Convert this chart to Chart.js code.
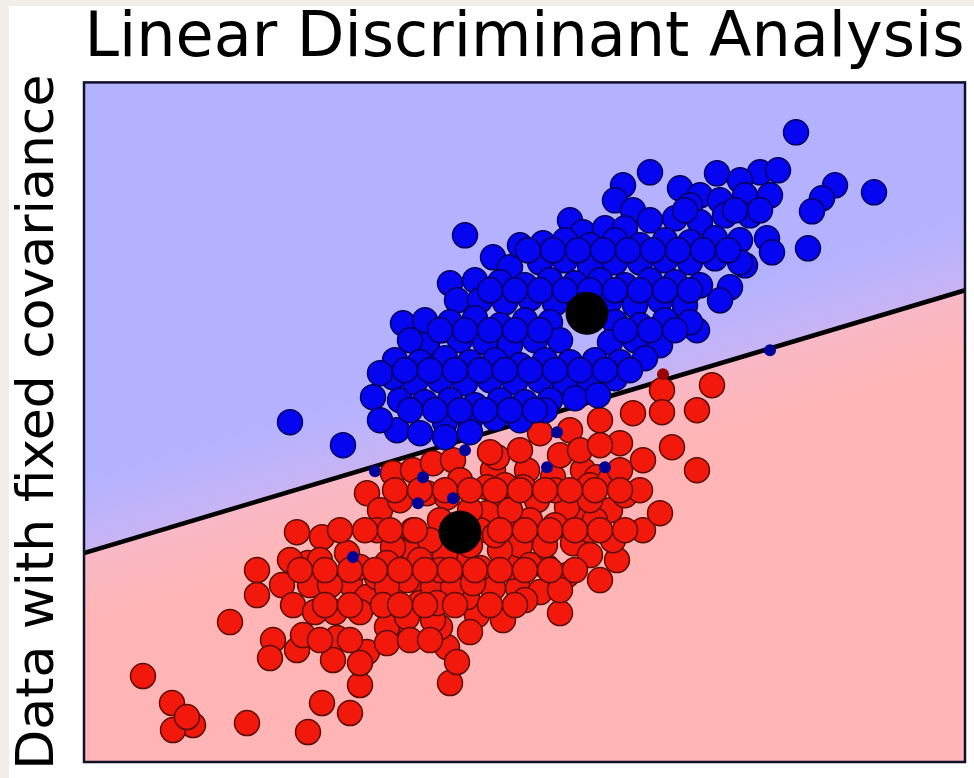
<!DOCTYPE html>
<html>
<head>
<meta charset="utf-8">
<script src="https://cdn.jsdelivr.net/npm/chart.js@4/dist/chart.umd.min.js"></script>
<style>
  html, body { margin: 0; padding: 0; background: #ffffff; }
  #wrap { width: 974px; height: 778px; }
</style>
</head>
<body>
<div id="wrap"><canvas id="c" width="974" height="778"></canvas></div>
<script>
// ---- Data (arbitrary data units) ----
const titleText = 'Linear Discriminant Analysis';
const yLabelText = 'Data with fixed covariance';

const xRange = [0, 8.81];
const yRange = [0, 6.80];

// decision boundary endpoints
const boundaryX = [0, 8.81];
const boundaryY = [2.09, 4.72];

// class means
const meansX = [5.03, 3.76];
const meansY = [4.49, 2.30];

// class 1 (blue), correctly classified
const blueTP = [
[7.12,6.30],[7.90,5.70],[7.51,5.77],[7.38,5.64],[7.28,5.51],[7.24,5.14],[6.83,5.24],[6.88,5.10],[6.76,5.90],[6.94,5.92],
[6.33,5.89],[6.56,5.82],[5.66,5.90],[5.39,5.77],[5.31,5.62],[5.49,5.52],[5.96,5.74],[6.16,5.67],[4.86,5.42],[4.59,5.19],
[4.99,5.30],[3.81,5.27],[4.09,5.05],[4.26,4.95],[3.66,4.79],[3.73,4.62],[3.19,4.39],[3.43,4.19],[3.59,4.32],[2.06,3.40],
[2.59,3.17],[2.89,3.65],[3.09,3.85],[3.16,3.62],[3.13,3.32],[3.36,3.29],[6.13,4.32],[6.46,4.75],[6.61,4.97],[6.36,4.62],
[6.06,5.57],[6.36,5.62],[6.61,5.67],[6.86,5.67],
[5.21,5.34],[5.41,5.34],[5.66,5.42],[5.91,5.44],[6.16,5.40],[6.41,5.47],[6.66,5.47],
[4.36,5.17],[4.81,5.22],[5.06,5.17],[5.31,5.22],[5.56,5.17],[5.81,5.22],[6.06,5.20],[6.31,5.24],[6.56,5.22],
[4.56,5.00],[4.81,5.02],[5.06,4.97],[5.31,5.00],[5.56,5.00],[5.81,5.02],[6.06,5.00],[6.31,5.04],[6.56,5.00],
[3.91,4.82],[4.16,4.80],[4.41,4.77],[4.66,4.82],[4.91,4.79],[5.16,4.82],[5.41,4.77],[5.66,4.82],[5.91,4.80],[6.16,4.77],
[3.96,4.62],[4.21,4.60],[4.46,4.64],[4.71,4.59],[5.26,4.62],[5.51,4.57],[5.76,4.62],[6.01,4.57],
[3.41,4.42],[3.66,4.40],[3.91,4.44],[4.16,4.37],[4.41,4.42],[4.66,4.40],[5.31,4.40],[5.56,4.37],[5.81,4.42],[6.06,4.40],
[3.26,4.22],[3.76,4.22],[4.01,4.20],[4.26,4.17],[4.51,4.22],[4.76,4.22],[5.26,4.20],[5.51,4.22],[5.76,4.17],
[3.11,4.02],[3.36,4.00],[3.61,4.04],[3.86,4.00],[4.11,4.02],[4.36,3.97],[4.61,4.02],[4.86,4.00],[5.11,4.02],[5.36,4.00],[5.61,4.04],
[3.31,3.80],[3.56,3.82],[3.81,3.79],[4.06,3.82],[4.31,3.80],[4.56,3.82],[4.81,3.77],[5.06,3.82],[5.31,3.84],
[3.41,3.60],[3.66,3.62],[3.91,3.57],[4.16,3.62],[4.41,3.60],[4.66,3.62],[4.91,3.64],[5.14,3.67],
[3.61,3.40],[3.86,3.42],[4.11,3.44],[4.36,3.42],[4.61,3.52],
[3.61,3.25],[3.86,3.30],[2.96,3.42],[2.96,3.89],
[4.44,5.12],[4.69,5.12],[4.94,5.12],[5.19,5.12],[5.44,5.12],[5.69,5.12],[5.94,5.12],[6.19,5.12],[6.44,5.12],
[4.06,4.72],[4.31,4.72],[4.56,4.72],[4.81,4.72],[5.06,4.72],[5.31,4.72],[5.56,4.72],[5.81,4.72],[6.06,4.72],
[3.56,4.32],[3.81,4.32],[4.06,4.32],[4.31,4.32],[4.56,4.32],[5.41,4.32],[5.66,4.32],[5.91,4.32],
[3.21,3.92],[3.46,3.92],[3.71,3.92],[3.96,3.92],[4.21,3.92],[4.46,3.92],[4.71,3.92],[4.96,3.92],[5.21,3.92],[5.46,3.92],
[3.26,3.52],[3.51,3.52],[3.76,3.52],[4.01,3.52],[4.26,3.52],[4.51,3.52],
[6.01,5.52],[6.51,5.52],[6.76,5.52]
];

// class 1 (blue), misclassified
const blueFP = [
[2.69,2.05],[2.91,2.91],[3.39,2.85],[3.69,2.64],[3.34,2.59],[3.81,3.12],[4.63,2.95],[5.21,2.95],[4.73,3.30],[6.86,4.12]
];

// class 0 (red), correctly classified
const redTP = [
[0.59,0.86],[0.88,0.59],[1.09,0.37],[0.89,0.32],[1.03,0.45],[1.63,0.39],[2.24,0.30],[2.38,0.59],[2.66,0.49],[2.76,0.77],
[1.46,1.40],[1.73,1.92],[1.73,1.67],[1.98,1.77],[2.09,1.57],[1.89,1.22],[1.86,1.04],[2.13,1.12],[2.19,1.27],[2.53,1.24],
[2.49,1.02],[2.83,1.10],[3.13,1.30],[3.66,0.79],[3.63,1.15],[3.73,1.00],[3.56,1.35],[2.13,2.30],[2.38,2.25],[4.76,1.49],
[5.16,1.82],[5.33,2.02],[4.83,1.87],[4.19,1.42],[3.93,1.47],[3.39,1.77],[3.83,1.65],[4.34,1.74],[4.56,1.70],[4.09,1.74],
[4.89,2.19],[5.29,2.22],[5.59,2.32],[4.26,1.95],[3.96,1.94],[4.63,1.95],[3.26,2.15],[6.28,3.77],[6.13,3.52],[6.13,2.92],
[5.88,3.15],[5.78,3.72],[5.78,3.50],[5.59,3.02],[5.49,3.49],[5.36,3.19],[5.76,2.49],[5.26,2.52],[4.99,2.92],[4.96,2.55],
[5.16,3.42],[5.13,2.85],[4.86,3.32],[4.56,3.29],[4.43,2.92],[4.09,2.92],[4.16,2.62],[4.53,2.62],[4.83,2.55],[4.69,2.85],
[2.24,1.99],[2.63,2.09],[2.51,1.50],[2.66,1.79],[2.83,1.65],[2.76,1.50],[3.03,1.35],[2.83,2.69],[2.96,2.52],[2.93,2.32],
[2.76,1.95],[3.09,2.89],[3.16,2.62],[3.29,2.32],[3.09,2.15],[3.03,1.99],[2.93,1.85],[3.23,1.82],[3.36,1.59],[3.49,1.75],
[3.29,2.92],[3.49,2.99],[3.69,3.02],[3.43,2.69],[3.63,2.65],[3.83,1.99],[3.69,1.75],[3.89,1.79],[4.03,2.75],[4.03,2.49],
[3.49,1.42],[3.23,1.45],[3.03,1.19],[2.76,0.99],[2.26,1.77],[3.03,1.75],[3.53,1.59],[4.13,3.05],[4.39,2.75],
[3.56,2.42],[3.96,2.32],[3.86,2.17],[3.61,2.07],[4.26,2.32],[4.46,2.42],[4.71,2.37],[5.06,2.32],[4.36,2.17],[4.61,2.17],
[4.16,2.12],[5.06,2.77],[5.26,2.82],[5.41,2.67],[4.76,3.07],[4.36,3.12],[4.96,3.12],[5.56,2.72],[5.16,3.17],[3.86,2.52],
[3.76,2.82],[4.21,2.77],[3.46,2.22],[3.36,2.02],[3.56,1.92],[4.46,1.97],[5.06,2.07],[5.11,2.42],[4.71,2.72],[4.26,2.52],
[5.36,2.92],
[2.36,2.02],[2.46,1.77],[2.31,1.50],[2.66,1.22],[2.99,1.57],[3.86,1.30],[4.41,1.62],[2.06,2.02],[3.71,1.57],[4.11,2.27],
[4.76,1.72],[5.06,2.62],
[3.11,2.72],[3.36,2.72],[3.61,2.72],[3.86,2.72],[4.11,2.72],[4.36,2.72],[4.61,2.72],[4.86,2.72],[5.11,2.72],[5.36,2.72],
[2.56,2.32],[2.81,2.32],[3.06,2.32],[3.31,2.32],[4.16,2.32],[4.41,2.32],[4.66,2.32],[4.91,2.32],[5.16,2.32],[5.41,2.32],
[2.16,1.92],[2.41,1.92],[2.66,1.92],[2.91,1.92],[3.16,1.92],[3.41,1.92],[3.66,1.92],[3.91,1.92],[4.16,1.92],[4.41,1.92],[4.66,1.92],[4.91,1.92],
[2.41,1.57],[2.66,1.57],[3.16,1.57],[3.41,1.57],[4.06,1.57],[4.31,1.57],
[2.36,1.22],[3.26,1.22],[3.46,1.22],[4.06,3.10]
];

// class 0 (red), misclassified
const redFP = [
[5.79,3.88]
];

// ---- helpers ----
const toPts = arr => arr.map(p => ({x: p[0], y: p[1]}));
const boundaryPts = boundaryX.map((x, i) => ({x, y: boundaryY[i]}));
const meanPts = meansX.map((x, i) => ({x, y: meansY[i]}));

const BLUE_BG = 'rgb(180,178,255)';
const RED_BG = 'rgb(255,181,181)';

function regionGradient(context) {
  const chart = context.chart;
  const area = chart.chartArea;
  if (!area) return BLUE_BG;
  const xs = chart.scales.x, ys = chart.scales.y;
  const x1 = xs.getPixelForValue(boundaryX[0]), y1 = ys.getPixelForValue(boundaryY[0]);
  const x2 = xs.getPixelForValue(boundaryX[1]), y2 = ys.getPixelForValue(boundaryY[1]);
  const len = Math.hypot(x2 - x1, y2 - y1);
  const dx = (x2 - x1) / len, dy = (y2 - y1) / len;
  const nx = -dy, ny = dx; // points towards red side
  const mx = (x1 + x2) / 2, my = (y1 + y2) / 2;
  const D = 70;
  const g = chart.ctx.createLinearGradient(mx - nx * D, my - ny * D, mx + nx * D, my + ny * D);
  g.addColorStop(0, BLUE_BG);
  g.addColorStop(0.5, 'rgb(200,180,244)');
  g.addColorStop(0.5, 'rgb(248,184,198)');
  g.addColorStop(1, RED_BG);
  return g;
}

const pagePlugin = {
  id: 'page',
  beforeDraw(chart) {
    const ctx = chart.ctx;
    ctx.save();
    ctx.fillStyle = '#f1eeea';
    ctx.fillRect(0, 0, chart.width, chart.height);
    ctx.fillStyle = '#ffffff';
    ctx.fillRect(9, 6, chart.width - 9, chart.height - 6);
    ctx.restore();
  },
  afterDatasetsDraw(chart) {
    const a = chart.chartArea;
    const ctx = chart.ctx;
    ctx.save();
    ctx.strokeStyle = '#10102a';
    ctx.lineWidth = 2.5;
    ctx.strokeRect(a.left, a.top, a.right - a.left, a.bottom - a.top);
    ctx.restore();
  }
};

Chart.defaults.font.family = "'DejaVu Sans', sans-serif";

new Chart(document.getElementById('c'), {
  type: 'scatter',
  data: {
    datasets: [
      { label: 'means', data: meanPts, pointRadius: 21, pointBackgroundColor: '#000000', pointBorderColor: '#000000', pointBorderWidth: 1 },
      { label: 'class 1 misclassified', data: toPts(blueFP), pointRadius: 6, pointBackgroundColor: '#000099', pointBorderColor: '#000099', pointBorderWidth: 0 },
      { label: 'class 1', data: toPts(blueTP), pointRadius: 12.5, pointBackgroundColor: '#0505f2', pointBorderColor: '#00005a', pointBorderWidth: 1.5 },
      { label: 'class 0 misclassified', data: toPts(redFP), pointRadius: 6, pointBackgroundColor: '#990000', pointBorderColor: '#990000', pointBorderWidth: 0 },
      { label: 'class 0', data: toPts(redTP), pointRadius: 12.5, pointBackgroundColor: '#f2180c', pointBorderColor: '#5a0c00', pointBorderWidth: 1.5 },
      { type: 'line', label: 'boundary', data: boundaryPts, showLine: true, fill: 'start', backgroundColor: regionGradient, borderColor: '#000000', borderWidth: 4.5, pointRadius: 0, tension: 0 },
      { type: 'line', label: 'region 1', data: boundaryPts, showLine: true, fill: 'end', backgroundColor: regionGradient, borderWidth: 0, borderColor: 'rgba(0,0,0,0)', pointRadius: 0, tension: 0 }
    ]
  },
  options: {
    responsive: false,
    animation: false,
    devicePixelRatio: 1,
    events: [],
    layout: { autoPadding: false, padding: { left: 0, top: 0, right: 9, bottom: 16 } },
    plugins: {
      legend: { display: false },
      tooltip: { enabled: false },
      title: {
        display: true,
        text: titleText,
        color: '#000000',
        fullSize: false,
        font: { family: "'DejaVu Sans', sans-serif", size: 62, weight: 'normal' },
        padding: { top: 3, bottom: 5 }
      }
    },
    scales: {
      x: {
        type: 'linear', min: xRange[0], max: xRange[1], display: false
      },
      y: {
        type: 'linear', min: yRange[0], max: yRange[1],
        ticks: { display: false },
        grid: { display: false, drawTicks: false },
        border: { display: false },
        title: {
          display: true,
          text: yLabelText,
          color: '#000000',
          font: { family: "'DejaVu Sans', sans-serif", size: 52, weight: 'normal' },
          padding: { top: 8, bottom: 13.6 }
        }
      }
    }
  },
  plugins: [pagePlugin]
});
</script>
</body>
</html>
